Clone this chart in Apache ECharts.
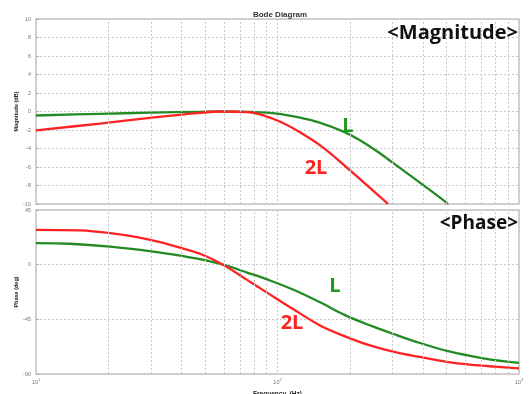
<!DOCTYPE html>
<html><head><meta charset="utf-8">
<script src="https://cdn.jsdelivr.net/npm/echarts@6/dist/echarts.min.js"></script>
<style>html,body{margin:0;padding:0;background:#fff}#c{width:531px;height:394px}</style>
</head><body><div id="c"></div>
<script>
// ---- data ----
const magTicks = [10, 8, 6, 4, 2, 0, -2, -4, -6, -8, -10];
const phaseTicks = [45, 0, -45, -90];
const minorFreqs = [20, 30, 40, 50, 60, 70, 80, 90, 200, 300, 400, 500, 600, 700, 800, 900];

const freqMagL = [10, 18.4, 29.7, 47.8, 59.5, 76.9, 99.5, 123.9, 147.2, 186.7, 219.6, 258.3, 300.9, 354, 416, 484.4, 508];
const magL     = [-0.43, -0.25, -0.13, -0.03, 0, -0.05, -0.22, -0.66, -1.15, -2.15, -3.1, -4.3, -5.55, -6.9, -8.25, -9.55, -10];

const freqMag2L = [10, 18.4, 29.7, 47.8, 59.5, 74.8, 84.6, 95.8, 109.5, 123.9, 147.2, 165, 186.7, 219.6, 253.3, 273.5, 286.8];
const mag2L     = [-2.04, -1.3, -0.68, -0.14, 0, -0.07, -0.3, -0.78, -1.45, -2.25, -3.5, -4.5, -5.7, -7.3, -8.75, -9.5, -10];

const freqPhL = [10, 13.8, 20.3, 30.5, 39.5, 47.8, 59.5, 74.8, 93.1, 115.9, 150, 190.3, 241.6, 306.6, 389.1, 503.4, 626.7, 795.6, 1000];
const phL     = [17.7, 17.2, 14.8, 10.8, 7.5, 4.5, 0, -6.5, -13, -20.5, -31, -41.5, -50, -57.5, -64.5, -71, -75, -78.5, -80.8];

const freqPh2L = [10, 15.2, 20.3, 26.2, 32.6, 39.5, 47.8, 59.5, 74.8, 90.5, 115.9, 150, 190.3, 241.6, 306.6, 389.1, 503.4, 626.7, 795.6, 1000];
const ph2L     = [28.7, 28.2, 26, 22.7, 18.6, 14, 9, 0, -12.5, -23, -36.5, -50, -59, -66.5, -72, -76, -80, -82.3, -84, -85.3];

const GREEN = '#238b23', RED = '#ff2222';
const zip = (a, b) => a.map((v, i) => [v, b[i]]);

const gridLine = { type: [2, 2], color: '#c8c8c8', width: 1 };
const minorMark = {
  silent: true, symbol: 'none', animation: false,
  label: { show: false },
  lineStyle: gridLine,
  emphasis: { disabled: true },
  data: minorFreqs.map(v => ({ xAxis: v }))
};
const lineSeries = (name, xi, data, color, mark) => ({
  name, type: 'line', xAxisIndex: xi, yAxisIndex: xi, data,
  smooth: 0.35, symbol: 'none',
  lineStyle: { color, width: 2.3 }, markLine: mark, z: 3
});

const chart = echarts.init(document.getElementById('c'), null, { renderer: 'canvas' });
chart.setOption({
  animation: false,
  title: {
    text: 'Bode Diagram', left: 275, top: 6, textAlign: 'center',
    textStyle: { fontSize: 8, fontWeight: 'bold', color: '#333', fontFamily: 'Liberation Sans' }
  },
  grid: [
    { left: 36, right: 12, top: 19, height: 185, show: true, borderColor: '#c4c4c4', borderWidth: 1.5, backgroundColor: '#fff', outerBoundsMode: 'none', containLabel: false },
    { left: 36, right: 12, top: 210, height: 164, show: true, borderColor: '#c4c4c4', borderWidth: 1.5, backgroundColor: '#fff', outerBoundsMode: 'none', containLabel: false }
  ],
  xAxis: [
    { type: 'log', logBase: 10, min: 10, max: 1000, gridIndex: 0,
      axisLine: { show: false }, axisTick: { show: false }, axisLabel: { show: false },
      splitLine: { show: true, lineStyle: gridLine } },
    { type: 'log', logBase: 10, min: 10, max: 1000, gridIndex: 1,
      axisLine: { show: false }, axisTick: { show: false },
      splitLine: { show: true, lineStyle: gridLine },
      name: 'Frequency  (Hz)', nameLocation: 'middle', nameGap: 17, nameMoveOverlap: false,
      nameTextStyle: { fontSize: 6.5, fontWeight: 'bold', color: '#222', fontFamily: 'Liberation Sans' },
      axisLabel: {
        margin: 4,
        formatter: v => '{b|10}{s|' + Math.round(Math.log10(v)) + '}',
        rich: {
          b: { fontSize: 5.5, color: '#777', fontFamily: 'Liberation Sans' },
          s: { fontSize: 4, color: '#777', verticalAlign: 'top', padding: [0, 0, 4, 0], fontFamily: 'Liberation Sans' }
        }
      } }
  ],
  yAxis: [
    { type: 'value', min: -10, max: 10, interval: 2, gridIndex: 0,
      axisLine: { show: false },
      axisTick: { show: true, inside: true, length: 3, lineStyle: { color: '#aaa' } },
      axisLabel: { fontSize: 5.5, color: '#777', margin: 5, fontFamily: 'Liberation Sans' },
      splitLine: { show: true, lineStyle: gridLine },
      name: 'Magnitude (dB)', nameLocation: 'middle', nameGap: 17, nameRotate: 90, nameMoveOverlap: false,
      nameTextStyle: { fontSize: 5.5, fontWeight: 'bold', color: '#222', fontFamily: 'Liberation Sans' } },
    { type: 'value', min: -90, max: 45, interval: 45, gridIndex: 1,
      axisLine: { show: false },
      axisTick: { show: true, inside: true, length: 3, lineStyle: { color: '#aaa' } },
      axisLabel: { fontSize: 5.5, color: '#777', margin: 5, fontFamily: 'Liberation Sans' },
      splitLine: { show: true, lineStyle: gridLine },
      name: 'Phase (deg)', nameLocation: 'middle', nameGap: 17, nameRotate: 90, nameMoveOverlap: false,
      nameTextStyle: { fontSize: 5.5, fontWeight: 'bold', color: '#222', fontFamily: 'Liberation Sans' } }
  ],
  series: [
    lineSeries('mag L', 0, zip(freqMagL, magL), GREEN, minorMark),
    lineSeries('mag 2L', 0, zip(freqMag2L, mag2L), RED),
    lineSeries('phase L', 1, zip(freqPhL, phL), GREEN, minorMark),
    lineSeries('phase 2L', 1, zip(freqPh2L, ph2L), RED)
  ],
  graphic: [
    { type: 'text', x: 518, y: 33, z: 10, style: { text: '<Magnitude>', align: 'right', verticalAlign: 'middle', fontSize: 20, fontWeight: 'bold', fontFamily: 'Open Sans', fill: '#111' } },
    { type: 'text', x: 518, y: 224, z: 10, style: { text: '<Phase>', align: 'right', verticalAlign: 'middle', fontSize: 19, fontWeight: 'bold', fontFamily: 'Open Sans', fill: '#111' } },
    { type: 'text', x: 348, y: 126, z: 10, style: { text: 'L', align: 'center', verticalAlign: 'middle', fontSize: 20, fontWeight: 'bold', fontFamily: 'Open Sans', fill: '#1f9a1f' } },
    { type: 'text', x: 316, y: 168, z: 10, style: { text: '2L', align: 'center', verticalAlign: 'middle', fontSize: 20, fontWeight: 'bold', fontFamily: 'Open Sans', fill: '#ff2020' } },
    { type: 'text', x: 335, y: 286, z: 10, style: { text: 'L', align: 'center', verticalAlign: 'middle', fontSize: 20, fontWeight: 'bold', fontFamily: 'Open Sans', fill: '#1f9a1f' } },
    { type: 'text', x: 292, y: 323, z: 10, style: { text: '2L', align: 'center', verticalAlign: 'middle', fontSize: 20, fontWeight: 'bold', fontFamily: 'Open Sans', fill: '#ff2020' } }
  ]
});
</script></body></html>
